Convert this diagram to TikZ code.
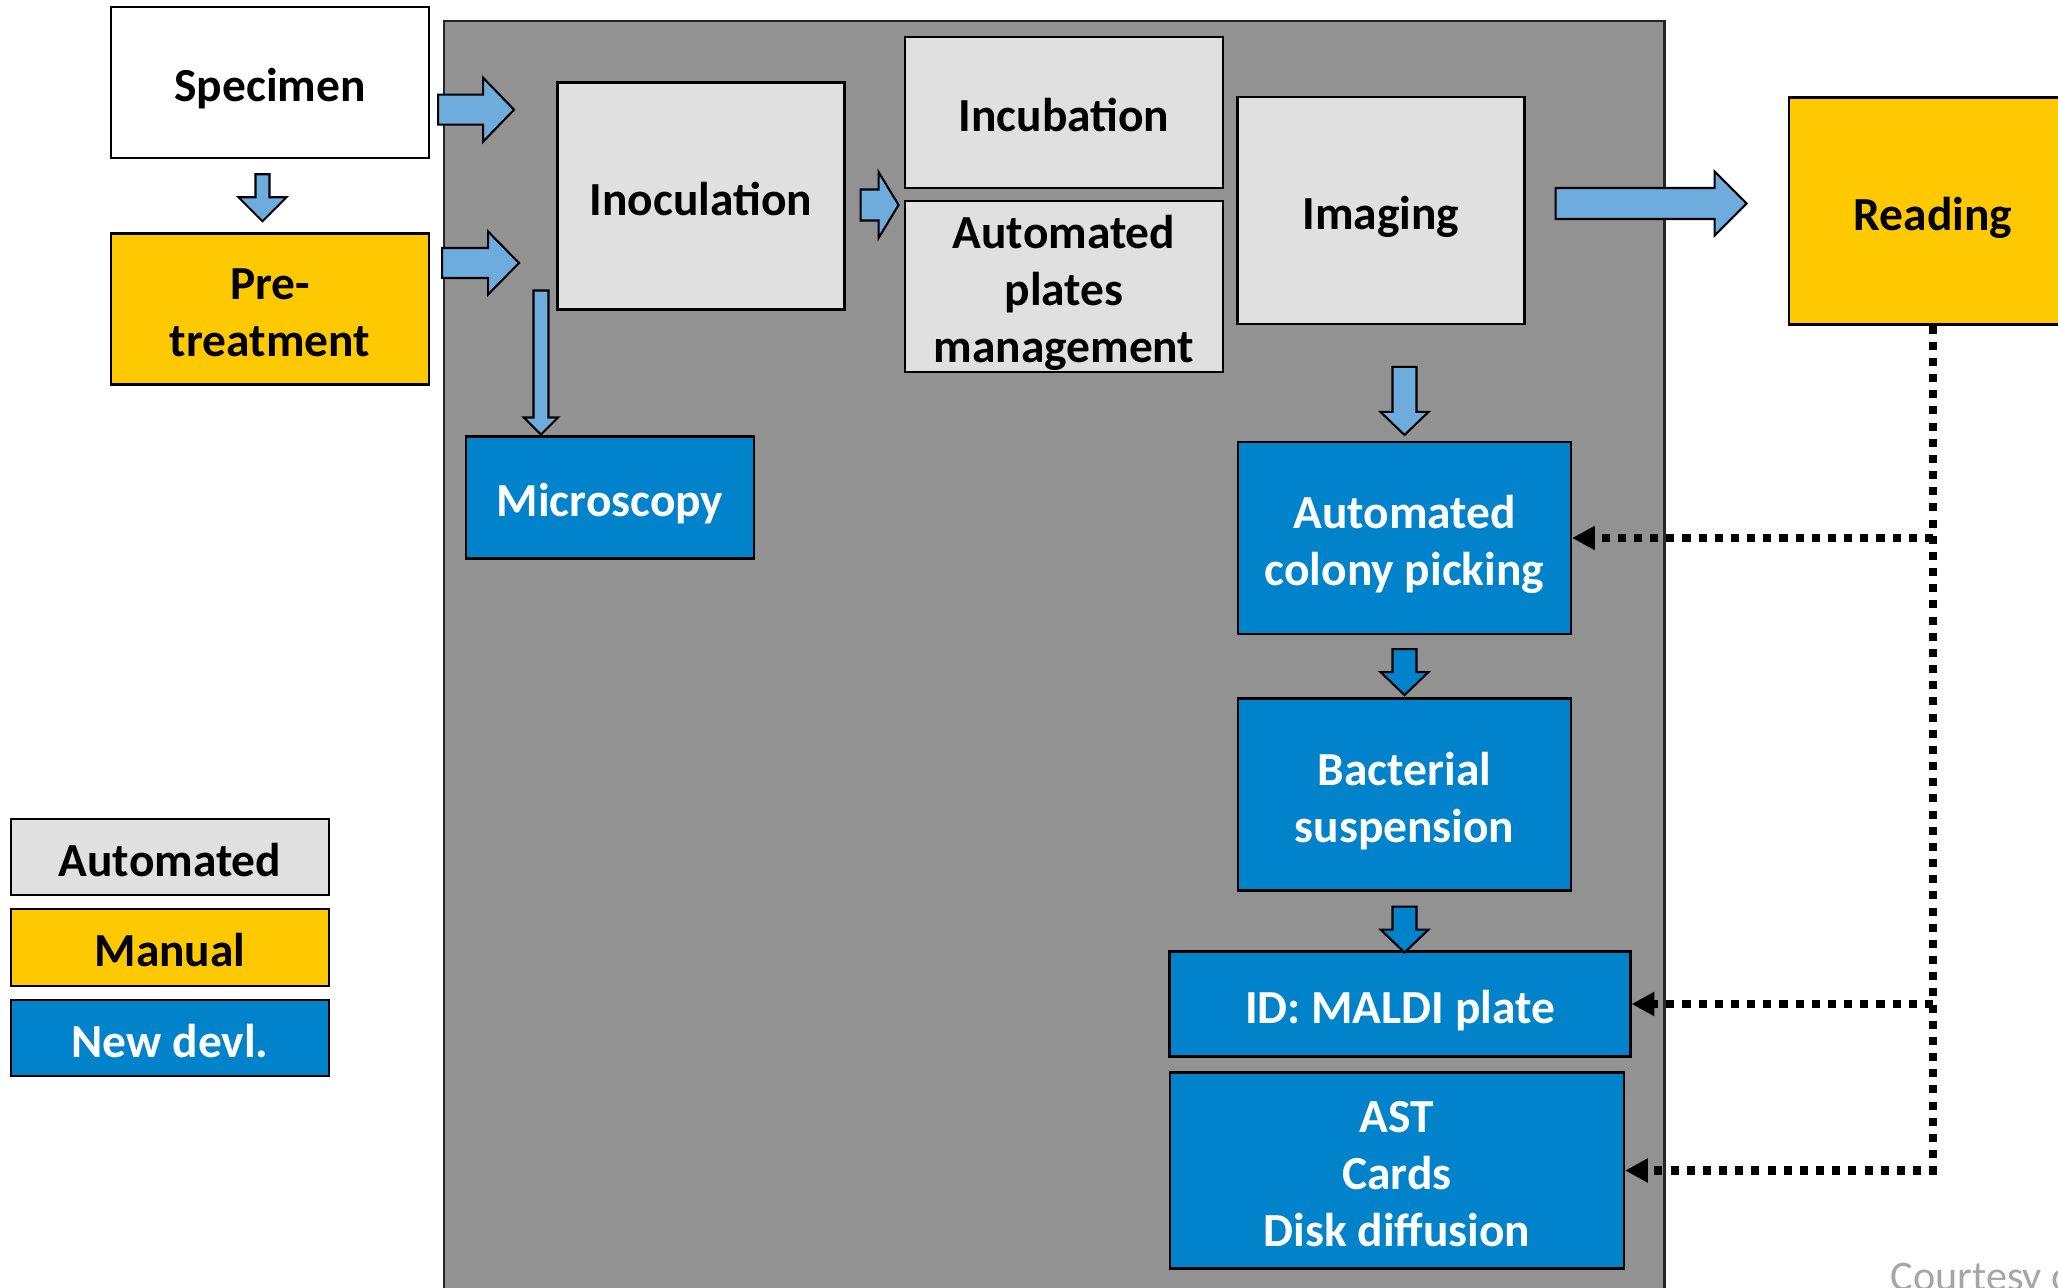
\documentclass[tikz,border=0pt]{standalone}
\usepackage{fontspec}
\setmainfont{Carlito}
\usepackage{tikz}
\usetikzlibrary{arrows.meta,calc,positioning}
\usepackage{xcolor}
\definecolor{bggray}{RGB}{146,146,146}
\definecolor{autogray}{RGB}{224,224,224}
\definecolor{manyellow}{RGB}{255,201,0}
\definecolor{newblue}{RGB}{0,131,202}
\definecolor{arrblue}{RGB}{110,172,222}
\definecolor{credit}{RGB}{166,166,166}
% box text, set a little low as in the slide
\newcommand{\btext}[1]{\raisebox{-2.2pt}[\height][\depth]{\begin{tabular}{@{}c@{}}#1\end{tabular}}}
% block arrows: style, start, length, shaft, head, head length
\newcommand{\rightarr}[6]{%
  \draw[#1] (#2) ++(0,{#4/2}) -- ++({#3-#6},0) -- ++(0,{(#5-#4)/2}) -- ++({#6},{-#5/2})
    -- ++({-#6},{-#5/2}) -- ++(0,{(#5-#4)/2}) -- ++({-(#3-#6)},0) -- cycle;}
\newcommand{\downarr}[6]{%
  \draw[#1] (#2) ++({-#4/2},0) -- ++(0,{-(#3-#6)}) -- ++({-(#5-#4)/2},0) -- ++({#5/2},{-#6})
    -- ++({#5/2},{#6}) -- ++({-(#5-#4)/2},0) -- ++(0,{#3-#6}) -- cycle;}

\begin{document}
\begin{tikzpicture}[
    stage/.style={draw=black,line width=0.6pt,inner sep=0pt,
      font=\fontsize{13.5}{16.2}\selectfont\bfseries},
    plainbox/.style={stage,fill=white},
    autobox/.style={stage,fill=autogray},
    manbox/.style={stage,fill=manyellow},
    newbox/.style={stage,fill=newblue,text=white},
    lightarr/.style={fill=arrblue,draw=black,line width=0.6pt,line join=miter},
    darkarr/.style={fill=newblue,draw=black,line width=0.6pt,line join=miter},
    feedback/.style={line width=2.3pt,dash pattern=on 2.3pt off 2.3pt,
      -{Triangle[length=6.5pt,width=6.5pt]}}]
  \useasboundingbox (0,0) rectangle (20.58,-12.88);
  \clip (0,0) rectangle (20.58,-12.88);
  % automated platform
  \fill[bggray,draw=black!85,line width=0.6pt] (4.44,-0.21) rectangle (16.645,-13.5);
  % pre-analytical steps
  \node[plainbox,minimum width=3.18cm,minimum height=1.51cm] (spec) at (2.70,-0.827) {\btext{Specimen}};
  \node[manbox,minimum width=3.18cm,minimum height=1.51cm] (pretreat) at (2.70,-3.09) {\btext{Pre-\\treatment}};
  % platform steps
  \node[autobox,minimum width=2.87cm,minimum height=2.27cm] (inoc) at (7.01,-1.96) {\btext{Inoculation}};
  \node[newbox,minimum width=2.88cm,minimum height=1.22cm] (micro) at (6.10,-4.975) {\btext{Microscopy}};
  \node[autobox,minimum width=3.18cm,minimum height=1.51cm] (incub) at (10.64,-1.125) {\btext{Incubation}};
  \node[autobox,minimum width=3.18cm,minimum height=1.66cm] (plates) at (10.64,-2.865) {\btext{Automated\\plates\\management}};
  \node[autobox,minimum width=2.87cm,minimum height=2.27cm] (imaging) at (13.81,-2.105) {\btext{Imaging}};
  \node[manbox,minimum width=2.88cm,minimum height=2.27cm] (reading) at (19.33,-2.11) {\btext{Reading}};
  % new developments
  \node[newbox,minimum width=3.33cm,minimum height=1.92cm] (colony) at (14.045,-5.38) {\btext{Automated\\colony picking}};
  \node[newbox,minimum width=3.33cm,minimum height=1.92cm] (bact) at (14.045,-7.945) {\btext{Bacterial\\suspension}};
  \node[newbox,minimum width=4.61cm,minimum height=1.05cm] (maldi) at (14.00,-10.04) {\btext{ID: MALDI plate}};
  \node[newbox,minimum width=4.54cm,minimum height=1.96cm] (ast) at (13.97,-11.705) {\btext{AST\\Cards\\Disk diffusion}};
  % legend
  \node[autobox,minimum width=3.18cm,minimum height=0.76cm] (legauto) at (1.70,-8.57) {\btext{Automated}};
  \node[manbox,minimum width=3.18cm,minimum height=0.77cm] (legman) at (1.70,-9.475) {\btext{Manual}};
  \node[newbox,minimum width=3.18cm,minimum height=0.76cm] (legnew) at (1.70,-10.38) {\btext{New devl.}};
  % block arrows
  \rightarr{lightarr}{$(spec.east)+(0.08,-0.27)$}{0.76}{0.30}{0.64}{0.31}
  \rightarr{lightarr}{$(pretreat.east)+(0.12,0.46)$}{0.77}{0.30}{0.63}{0.31}
  \downarr{lightarr}{$(spec.south)+(-0.075,-0.15)$}{0.47}{0.14}{0.48}{0.24}
  \downarr{lightarr}{$(inoc.south west)+(-0.155,0.20)$}{1.44}{0.15}{0.34}{0.17}
  \rightarr{lightarr}{$(inoc.east)+(0.15,-0.09)$}{0.38}{0.31}{0.66}{0.20}
  \rightarr{lightarr}{$(imaging.east)+(0.30,0.07)$}{1.91}{0.31}{0.64}{0.32}
  \downarr{lightarr}{$(colony.north)+(0,0.74)$}{0.68}{0.24}{0.48}{0.23}
  \downarr{darkarr}{$(colony.south)+(0,-0.14)$}{0.46}{0.24}{0.48}{0.23}
  \downarr{darkarr}{$(bact.south)+(0,-0.15)$}{0.46}{0.24}{0.48}{0.23}
  % feedback from reading
  \draw[feedback] (reading.south) -- (reading.south |- ast.east) -- (ast.east);
  \draw[feedback] (reading.south |- colony.east) -- (colony.east);
  \draw[feedback] (reading.south |- maldi.east) -- (maldi.east);
  % credit
  \node[anchor=base west,text=credit,font=\fontsize{12}{14}\selectfont,inner sep=0pt] (courtesy) at (18.90,-12.90) {Courtesy of};
\end{tikzpicture}
\end{document}
